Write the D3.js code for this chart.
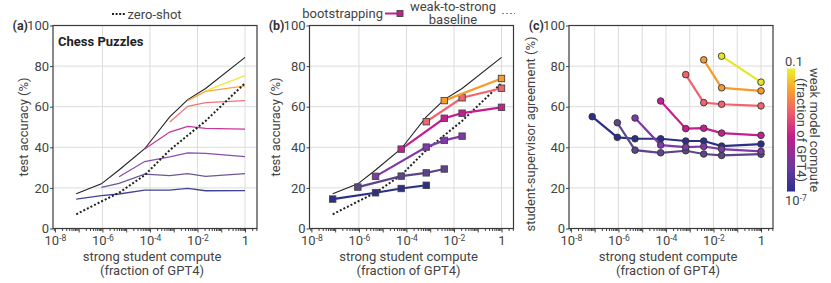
<!DOCTYPE html>
<html>
<head>
<meta charset="utf-8">
<script src="https://cdn.jsdelivr.net/npm/d3@7"></script>
<style>
body { margin: 0; background: #fff; }
svg { font-family: Roboto, "Noto Sans", sans-serif; }
</style>
</head>
<body>
<div id="container"></div>
<script>
//strong student compute (fraction of GPT4), one per model size
var studentCompute = [7.9e-8, 9e-7, 5e-6, 6e-5, 6.8e-4, 3.9e-3, 2.2e-2, 1];

//strong ceiling (black) and zero-shot (dotted)
var strongCeiling = [17.1, 22.0, 28.8, 39.3, 55.0, 63.5, 69.0, 84.3];
var zeroShot = [7.0, 13.3, 17.6, 26.3, 38.6, 45.9, 53.0, 71.6];

//(a) weak-to-strong baseline, one line per weak model, starting at index w2sStart
var w2sStart = [0, 1, 2, 3, 4, 5, 6];
var w2sAcc = [
    [14.5, 16.2, 17.0, 18.9, 18.9, 19.8, 18.6, 18.7],
    [20.3, 22.2, 26.8, 26.0, 27.0, 25.7, 27.0],
    [25.5, 33.0, 35.3, 37.3, 37.0, 35.4],
    [39.2, 47.5, 50.3, 49.3, 49.0],
    [52.5, 60.2, 62.0, 63.0],
    [63.0, 67.5, 70.3],
    [67.8, 75.3]
];

//(b) bootstrapping, indices into studentCompute
var bootIdx = [
    [0, 2, 3, 4],
    [1, 3, 4, 5],
    [2, 4, 5, 6],
    [3, 5, 6, 7],
    [4, 6, 7],
    [5, 7]
];
var bootAcc = [
    [14.5, 17.6, 19.7, 21.3],
    [20.4, 25.8, 27.4, 29.3],
    [25.7, 40.1, 43.4, 45.5],
    [39.1, 54.3, 56.8, 59.7],
    [52.6, 64.4, 69.1],
    [63.0, 73.9]
];

//(c) student-supervisor agreement, same starts as w2sStart
var agreeAcc = [
    [55.1, 44.9, 44.2, 44.2, 43.1, 43.1, 40.6, 41.6],
    [52.1, 38.6, 37.3, 38.3, 36.7, 36.0, 36.6],
    [54.4, 41.1, 40.1, 40.4, 39.1, 38.0],
    [62.8, 49.2, 49.4, 47.0, 45.9],
    [75.8, 62.0, 61.2, 60.4],
    [83.1, 69.3, 67.8],
    [84.9, 72.1]
];

//tick values
var yTicks = [0, 20, 40, 60, 80, 100];
var xDecades = [-8, -7, -6, -5, -4, -3, -2, -1, 0];
var xLabelExps = [-8, -6, -4, -2, 0];

//weak model colours (10^-7 .. 0.1)
var weakColors = ['#2c2f88', '#5c4689', '#7e3aa8', '#c41f8e', '#f0646b', '#f89b2c', '#e6e627'];
var cbStops = [[0, '#2b2f8e'], [0.2, '#6a3a9f'], [0.45, '#c21d8c'], [0.65, '#f0606b'], [0.82, '#f7a032'], [1, '#f0f028']];

var w = 831, h = 283;
var pw = 204, plotTop = 25.5, plotBottom = 228.5;
var textColor = '#444';

var svg = d3.select('#container')
    .append('svg')
    .attr('width', w)
    .attr('height', h)
    .style('background', '#fff');

function supLabel(sel, e) {
    sel.text(null);
    if (e === 0) { sel.text('1'); return; }
    sel.append('tspan').text('10');
    sel.append('tspan').attr('dy', '-0.45em').attr('font-size', '8.5px').text(e);
}

function makePanel(left, letter, ylabel, ylabelDx, ylabelCy, vgrid) {
    var x = d3.scaleLog()
        .domain([Math.pow(10, -8.08), Math.pow(10, 0.505)])
        .range([left, left + pw]);
    var y = d3.scaleLinear().domain([0, 100]).range([plotBottom, plotTop]);
    var g = svg.append('g');

    //grid
    g.selectAll('.hgrid').data([20, 40, 60, 80]).enter().append('line')
        .attr('x1', left).attr('x2', left + pw)
        .attr('y1', function(d) { return y(d); })
        .attr('y2', function(d) { return y(d); })
        .attr('stroke', '#dcdcdc').attr('stroke-width', 1);
    g.selectAll('.vgrid').data(vgrid).enter().append('line')
        .attr('x1', function(d) { return x(Math.pow(10, d)); })
        .attr('x2', function(d) { return x(Math.pow(10, d)); })
        .attr('y1', plotTop).attr('y2', plotBottom)
        .attr('stroke', '#dcdcdc').attr('stroke-width', 1);

    //minor x ticks
    var minor = [];
    for (var e = -9; e <= 0; e++) {
        for (var m = 2; m <= 9; m++) {
            var v = m * Math.pow(10, e);
            if (v > x.domain()[0] && v < x.domain()[1]) minor.push(v);
        }
    }
    var minorAxis = g.append('g')
        .attr('transform', 'translate(0,' + plotBottom + ')')
        .call(d3.axisBottom(x).tickValues(minor).tickSize(2.5).tickFormat(''));
    minorAxis.select('.domain').remove();
    minorAxis.selectAll('line').attr('stroke', textColor);

    var xAxis = g.append('g')
        .attr('transform', 'translate(0,' + plotBottom + ')')
        .call(d3.axisBottom(x)
            .tickValues(xDecades.map(function(d) { return Math.pow(10, d); }))
            .tickSize(4).tickPadding(3).tickFormat(''));
    xAxis.select('.domain').remove();
    xAxis.selectAll('line').attr('stroke', textColor);
    xAxis.selectAll('text')
        .attr('font-size', '13px').attr('fill', textColor).attr('font-family', 'Roboto')
        .each(function(d) {
            var ex = Math.round(Math.log10(d));
            if (xLabelExps.indexOf(ex) < 0) return;
            supLabel(d3.select(this), ex);
        });

    var yAxis = g.append('g')
        .attr('transform', 'translate(' + left + ',0)')
        .call(d3.axisLeft(y).tickValues(yTicks).tickSize(3).tickPadding(1));
    yAxis.select('.domain').remove();
    yAxis.selectAll('line').attr('stroke', textColor);
    yAxis.selectAll('text').attr('font-size', '13px').attr('fill', textColor).attr('font-family', 'Roboto');

    //frame
    g.append('rect')
        .attr('x', left).attr('y', plotTop)
        .attr('width', pw).attr('height', plotBottom - plotTop)
        .attr('fill', 'none').attr('stroke', '#3a3a3a').attr('stroke-width', 1.2);

    //panel letter
    svg.append('text')
        .attr('x', left - 25).attr('y', plotTop + 4.5)
        .attr('text-anchor', 'end')
        .attr('font-size', '12.5px').attr('font-weight', 'bold').attr('fill', '#333')
        .text('(' + letter + ')');

    //y label
    svg.append('text')
        .attr('transform', 'translate(' + (left + ylabelDx) + ',' + ylabelCy + ') rotate(-90)')
        .attr('text-anchor', 'middle')
        .attr('font-size', '13px').attr('fill', textColor)
        .text(ylabel);

    //x label
    var cx = left + pw / 2 - 3;
    svg.append('text').attr('x', cx).attr('y', 260.5)
        .attr('text-anchor', 'middle').attr('font-size', '13px').attr('fill', textColor)
        .text('strong student compute');
    svg.append('text').attr('x', cx).attr('y', 275)
        .attr('text-anchor', 'middle').attr('font-size', '13px').attr('fill', textColor)
        .text('(fraction of GPT4)');

    var line = d3.line()
        .x(function(d) { return x(d[0]); })
        .y(function(d) { return y(d[1]); });

    return { g: g, x: x, y: y, line: line };
}

function pairs(xs, vals) {
    return vals.map(function(v, i) { return [xs[i], v]; });
}

function fromStart(start, vals) {
    return vals.map(function(v, j) { return [studentCompute[start + j], v]; });
}

//panel (a)
var pa = makePanel(53, 'a', 'test accuracy (%)', -25.5, 127, [-6, -4, -2, 0]);

pa.g.append('path')
    .datum(pairs(studentCompute, strongCeiling))
    .attr('fill', 'none').attr('stroke', '#222').attr('stroke-width', 1.1)
    .attr('d', pa.line);

pa.g.selectAll('.w2s')
    .data(w2sAcc)
    .enter()
    .append('path')
    .attr('fill', 'none')
    .attr('stroke', function(d, i) { return weakColors[i]; })
    .attr('stroke-width', 1.3)
    .attr('opacity', 0.9)
    .attr('d', function(d, i) { return pa.line(fromStart(w2sStart[i], d)); });

pa.g.append('path')
    .datum(pairs(studentCompute, zeroShot))
    .attr('fill', 'none').attr('stroke', '#222').attr('stroke-width', 2)
    .attr('stroke-dasharray', '2,2')
    .attr('d', pa.line);

svg.append('text')
    .attr('x', 58).attr('y', 46)
    .attr('font-size', '13px').attr('font-weight', 'bold').attr('fill', '#222')
    .text('Chess Puzzles');

//panel (b)
var pb = makePanel(309.5, 'b', 'test accuracy (%)', -30, 127, [-6, -4, -2, 0]);

pb.g.append('path')
    .datum(pairs(studentCompute, strongCeiling))
    .attr('fill', 'none').attr('stroke', '#222').attr('stroke-width', 1.1)
    .attr('d', pb.line);

pb.g.append('path')
    .datum(pairs(studentCompute, zeroShot))
    .attr('fill', 'none').attr('stroke', '#222').attr('stroke-width', 2)
    .attr('stroke-dasharray', '2,2')
    .attr('d', pb.line);

bootAcc.forEach(function(vals, i) {
    var pts = vals.map(function(v, j) { return [studentCompute[bootIdx[i][j]], v]; });
    pb.g.append('path')
        .datum(pts)
        .attr('fill', 'none').attr('stroke', weakColors[i]).attr('stroke-width', 2.2)
        .attr('d', pb.line);
    pb.g.selectAll('.sq' + i)
        .data(pts)
        .enter()
        .append('rect')
        .attr('x', function(d) { return pb.x(d[0]) - 3.2; })
        .attr('y', function(d) { return pb.y(d[1]) - 3.2; })
        .attr('width', 6.4).attr('height', 6.4)
        .attr('fill', weakColors[i])
        .attr('stroke', '#444').attr('stroke-width', 0.9);
});

//panel (c)
var pc = makePanel(569, 'c', 'student-supervisor agreement (%)', -34, 134, [-7, -6, -5, -4, -3, -2, -1, 0]);

agreeAcc.forEach(function(vals, i) {
    var pts = fromStart(w2sStart[i], vals);
    pc.g.append('path')
        .datum(pts)
        .attr('fill', 'none').attr('stroke', weakColors[i]).attr('stroke-width', 2.2)
        .attr('d', pc.line);
    pc.g.selectAll('.dot' + i)
        .data(pts)
        .enter()
        .append('circle')
        .attr('cx', function(d) { return pc.x(d[0]); })
        .attr('cy', function(d) { return pc.y(d[1]); })
        .attr('r', 3.3)
        .attr('fill', weakColors[i])
        .attr('stroke', '#333').attr('stroke-width', 0.9);
});

//colorbar
var defs = svg.append('defs');
var grad = defs.append('linearGradient')
    .attr('id', 'cb').attr('x1', 0).attr('y1', 1).attr('x2', 0).attr('y2', 0);
grad.selectAll('stop')
    .data(cbStops)
    .enter()
    .append('stop')
    .attr('offset', function(d) { return d[0]; })
    .attr('stop-color', function(d) { return d[1]; });

svg.append('rect')
    .attr('x', 787).attr('y', 68.5)
    .attr('width', 8).attr('height', 123)
    .attr('fill', 'url(#cb)');

svg.append('text').attr('x', 785).attr('y', 66)
    .attr('font-size', '13px').attr('fill', textColor).text('0.1');
supLabel(svg.append('text').attr('x', 785).attr('y', 205)
    .attr('font-size', '13px').attr('fill', textColor), -7);

svg.append('text')
    .attr('transform', 'translate(809.5,130) rotate(90)')
    .attr('text-anchor', 'middle').attr('font-size', '13px').attr('fill', textColor)
    .text('weak model compute');
svg.append('text')
    .attr('transform', 'translate(797,130) rotate(90)')
    .attr('text-anchor', 'middle').attr('font-size', '13px').attr('fill', textColor)
    .text('(fraction of GPT4)');

//legends
svg.append('line')
    .attr('x1', 112).attr('x2', 125).attr('y1', 14).attr('y2', 14)
    .attr('stroke', '#222').attr('stroke-width', 2).attr('stroke-dasharray', '2,1.6');
svg.append('text').attr('x', 127.5).attr('y', 18.5)
    .attr('font-size', '13px').attr('fill', textColor).text('zero-shot');

svg.append('text').attr('x', 383).attr('y', 18)
    .attr('text-anchor', 'end')
    .attr('font-size', '13px').attr('fill', textColor).text('bootstrapping');
svg.append('line')
    .attr('x1', 385).attr('x2', 400).attr('y1', 13.5).attr('y2', 13.5)
    .attr('stroke', weakColors[3]).attr('stroke-width', 2);
svg.append('rect')
    .attr('x', 397).attr('y', 10.5).attr('width', 6).attr('height', 6)
    .attr('fill', weakColors[3]).attr('stroke', '#444').attr('stroke-width', 0.9);
svg.append('text').attr('x', 453).attr('y', 10.5)
    .attr('text-anchor', 'middle')
    .attr('font-size', '13px').attr('fill', textColor).text('weak-to-strong');
svg.append('text').attr('x', 453).attr('y', 24)
    .attr('text-anchor', 'middle')
    .attr('font-size', '13px').attr('fill', textColor).text('baseline');
svg.append('line')
    .attr('x1', 502).attr('x2', 515).attr('y1', 13.5).attr('y2', 13.5)
    .attr('stroke', '#d9589c').attr('stroke-width', 1).attr('stroke-dasharray', '2,2');
</script>
</body>
</html>
